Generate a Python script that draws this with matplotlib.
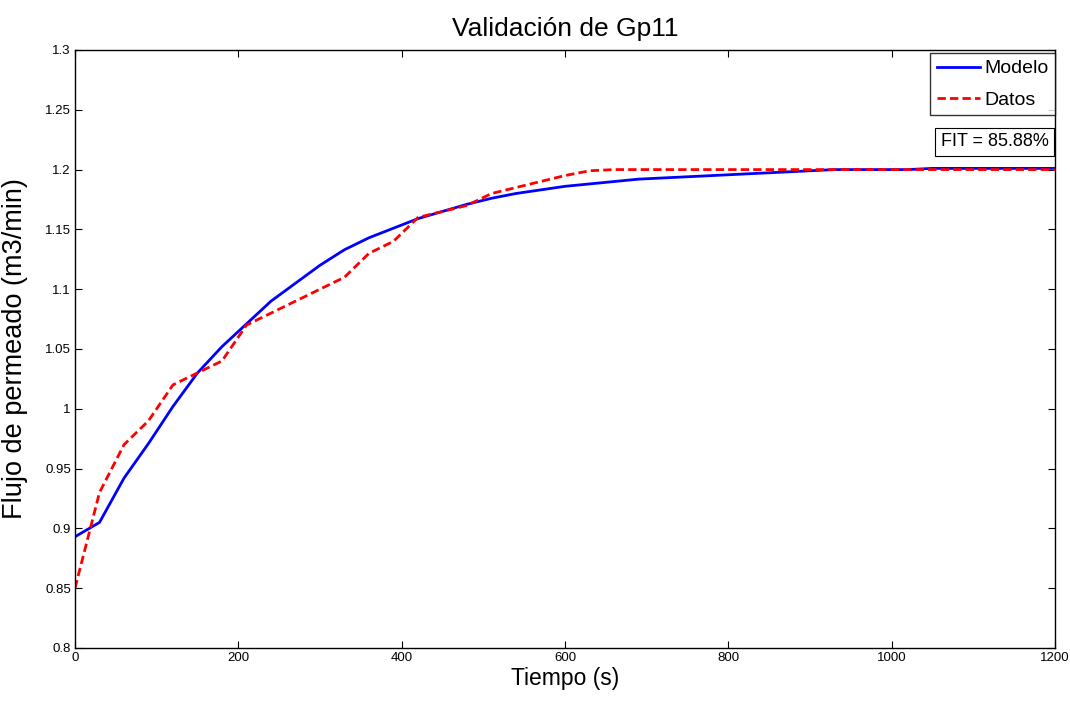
import matplotlib
matplotlib.use("Agg")
import matplotlib.pyplot as plt
import numpy as np

plt.rcParams['font.family'] = ['Liberation Sans', 'DejaVu Sans']

t_datos = [0, 30, 60, 90, 120, 150, 180, 210, 240, 270, 300, 330, 360, 390, 420,
           450, 480, 510, 540, 570, 600, 630, 660, 690, 720, 750, 780, 810, 840, 870,
           900, 930, 960, 990, 1020, 1050, 1080, 1110, 1140, 1170, 1200]
datos = [0.85, 0.93, 0.97, 0.99, 1.02, 1.03, 1.04, 1.07, 1.08, 1.09, 1.10, 1.11, 1.13, 1.14, 1.16,
         1.165, 1.17, 1.18, 1.185, 1.19, 1.195, 1.199, 1.2, 1.2, 1.2, 1.2, 1.2, 1.2, 1.2, 1.2,
         1.2, 1.2, 1.2, 1.2, 1.2, 1.2, 1.2, 1.2, 1.2, 1.2, 1.2]
modelo = [0.893, 0.905, 0.942, 0.971, 1.002, 1.030, 1.052, 1.071, 1.090, 1.105, 1.120, 1.133, 1.143, 1.151, 1.159,
          1.165, 1.171, 1.176, 1.180, 1.183, 1.186, 1.188, 1.190, 1.192, 1.193, 1.194, 1.195, 1.196, 1.197, 1.198,
          1.199, 1.200, 1.200, 1.200, 1.200, 1.201, 1.201, 1.201, 1.201, 1.201, 1.201]

xticks = [0, 200, 400, 600, 800, 1000, 1200]
yticks = [0.8, 0.85, 0.9, 0.95, 1.0, 1.05, 1.1, 1.15, 1.2, 1.25, 1.3]
yticklabels = ['0.8', '0.85', '0.9', '0.95', '1', '1.05', '1.1', '1.15', '1.2', '1.25', '1.3']

fig = plt.figure(figsize=(10.70, 7.06), dpi=100)
ax = fig.add_axes([0.0701, 0.0822, 0.9159, 0.8470])

ax.plot(t_datos, modelo, color='#0000ff', lw=2.0, label='Modelo')
ax.plot(t_datos, datos, color='#ff0000', lw=2.0, ls=(0, (3, 1.5)), label='Datos')

ax.set_xlim(0, 1200)
ax.set_ylim(0.8, 1.3)
ax.set_xticks(xticks)
ax.set_xticklabels([str(v) for v in xticks])
ax.set_yticks(yticks)
ax.set_yticklabels(yticklabels)
ax.tick_params(direction='in', top=True, right=True, labelsize=9.5, length=5, width=0.8, pad=3)
for s in ax.spines.values():
    s.set_linewidth(1.0)

ax.set_title('Validación de Gp11', fontsize=19, pad=10)
ax.set_xlabel('Tiempo (s)', fontsize=16.5, labelpad=2)
ax.set_ylabel('Flujo de permeado (m3/min)', fontsize=19.5, labelpad=12)

leg = ax.legend(loc='upper right', bbox_to_anchor=(1.0, 0.995), fontsize=14, frameon=True,
                fancybox=False, borderaxespad=0.0, handlelength=2.2, handletextpad=0.2,
                borderpad=0.35, labelspacing=0.7)
leg.get_frame().set_edgecolor('black')
leg.get_frame().set_linewidth(1.0)

ax.text(0.9935, 0.861, 'FIT = 85.88%', transform=ax.transAxes, ha='right', va='top',
        fontsize=13, bbox=dict(boxstyle='square,pad=0.3', fc='white', ec='black', lw=0.8))

fig.savefig('out.png', dpi=100)
